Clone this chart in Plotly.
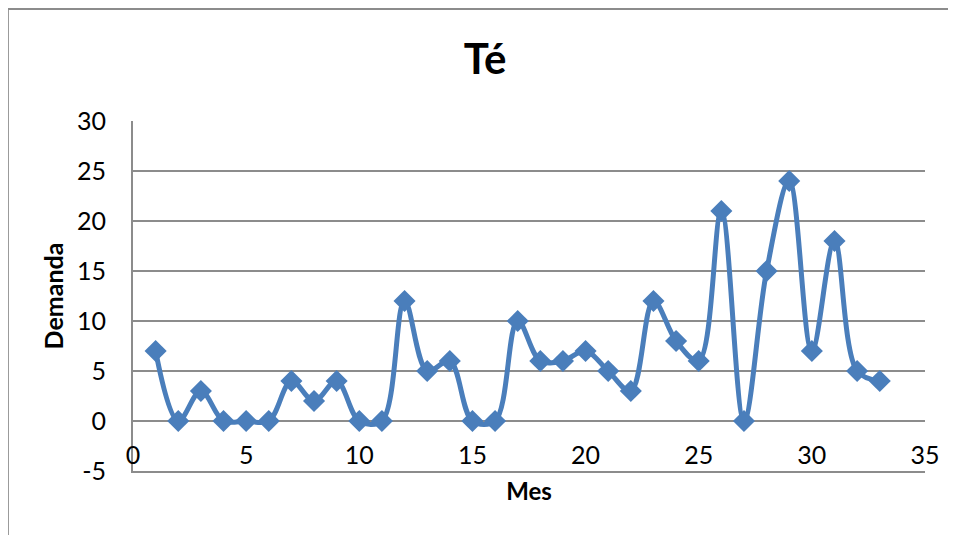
import plotly.graph_objects as go

# Datos: demanda mensual de té
meses = list(range(1, 34))
demanda = [7, 0, 3, 0, 0, 0, 4, 2, 4, 0, 0, 12, 5, 6, 0, 0, 10, 6, 6, 7,
           5, 3, 12, 8, 6, 21, 0, 15, 24, 7, 18, 5, 4]

x_ticks = [0, 5, 10, 15, 20, 25, 30, 35]
y_ticks = [-5, 0, 5, 10, 15, 20, 25, 30]
y_labels = ["-5", "0", "5", "10", "15", "20", "25", "30"]

azul = "#4A7EBB"
gris = "#8C8C8C"
fuente = "Lato, 'Open Sans', sans-serif"

fig = go.Figure()
fig.add_trace(
    go.Scatter(
        x=meses,
        y=demanda,
        mode="lines+markers",
        line=dict(color=azul, width=5, shape="spline", smoothing=1),
        marker=dict(symbol="diamond", size=17, color=azul),
        showlegend=False,
    )
)
# traza invisible para el eje de etiquetas del mes
fig.add_trace(go.Scatter(x=[0, 35], y=[None, None], xaxis="x2", showlegend=False, hoverinfo="skip"))

# la página añade 8 px de margen al cuerpo: se compensa aquí
fig.update_layout(
    width=956,
    height=535,
    paper_bgcolor="white",
    plot_bgcolor="white",
    margin=dict(l=125, r=39, t=113, b=72),
    font=dict(family=fuente, color="black", size=25),
    title=dict(
        text="<b>Té</b>",
        x=0.499, xanchor="center",
        y=0.905, yanchor="middle",
        font=dict(size=42, family=fuente),
    ),
    xaxis=dict(
        range=[0, 35],
        showticklabels=False,
        showgrid=False,
        zeroline=False,
        showline=True,
        linecolor=gris,
        linewidth=2,
        ticks="",
        automargin=False,
        title=dict(text="<b>Mes</b>", font=dict(size=24), standoff=11),
    ),
    xaxis2=dict(
        range=[0, 35],
        tickvals=x_ticks,
        overlaying="x",
        anchor="free",
        position=0.094,
        side="bottom",
        showgrid=False,
        zeroline=False,
        showline=False,
        ticks="",
        automargin=False,
    ),
    yaxis=dict(
        range=[-5, 30],
        tickvals=y_ticks,
        ticktext=y_labels,
        showgrid=True,
        gridcolor=gris,
        gridwidth=2,
        zeroline=False,
        showline=True,
        linecolor=gris,
        linewidth=2,
        ticks="",
        ticklabelstandoff=20,
        automargin=False,
        title=dict(text="<b>Demanda</b>", font=dict(size=25), standoff=6),
    ),
)

# Borde del área del gráfico
fig.add_shape(
    type="rect", xref="paper", yref="paper",
    x0=-0.158, x1=1.2, y0=-0.5, y1=1.32,
    line=dict(color=gris, width=2), fillcolor="rgba(0,0,0,0)",
    layer="below",
)

fig.write_html("out.html")
